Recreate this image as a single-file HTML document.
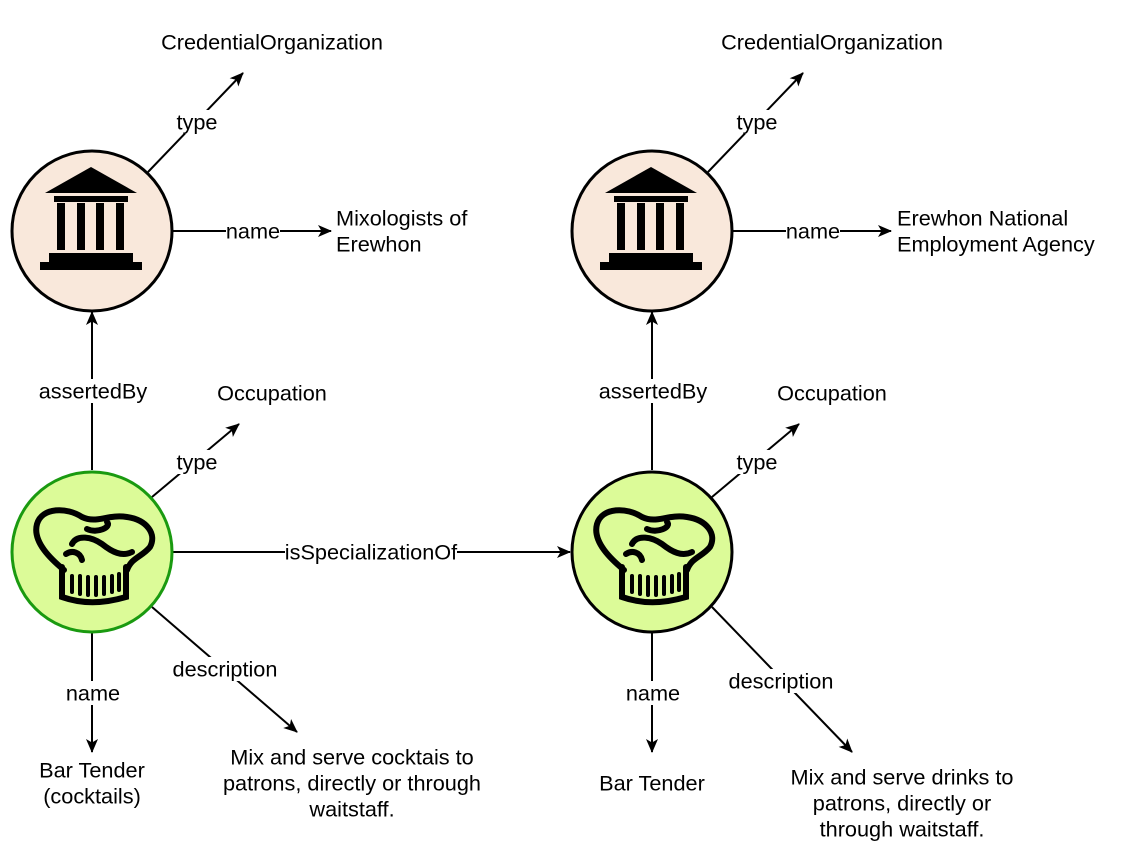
<!DOCTYPE html>
<html><head><meta charset="utf-8"><style>
html,body{margin:0;padding:0;background:#fff;}
svg{display:block;font-family:"Liberation Sans",Arial,sans-serif;font-size:21.7px;}
</style></head><body>
<svg width="1142" height="862" viewBox="0 0 1142 862" xmlns="http://www.w3.org/2000/svg">
<defs>
<marker id="ah" markerWidth="14" markerHeight="14" refX="13" refY="7" orient="auto" markerUnits="userSpaceOnUse" viewBox="0 0 14 14">
<path d="M0,1 L14,7 L0,13 L3.5,7 Z" fill="#000"/></marker>
<g id="bank">
<polygon points="-1,-64 -47,-38 45,-38" fill="#000"/>
<rect x="-38" y="-35" width="74" height="6" fill="#000"/>
<rect x="-35" y="-28" width="8" height="47" fill="#000"/>
<rect x="-15" y="-28" width="8" height="47" fill="#000"/>
<rect x="4" y="-28" width="8" height="47" fill="#000"/>
<rect x="24" y="-28" width="8" height="47" fill="#000"/>
<rect x="-43" y="22" width="84" height="9" fill="#000"/>
<rect x="-52" y="31" width="102" height="8" fill="#000"/>
</g>
<g id="hat" fill="none" stroke="#000" stroke-width="6" stroke-linecap="round">
<path d="M-28,18 C-40,8 -60,-10 -55,-28 C-50,-45 -25,-45 -10,-35 C5,-28 15,-38 35,-35 C55,-32 65,-18 58,-5 C50,5 40,5 35,18"/>
<path d="M-5,-23 C5,-18 20,-25 15,-30"/>
<path d="M-20,-8 C-15,-18 0,-15 10,-8 C20,0 30,5 40,0"/>
<path d="M-10,8 C-12,0 -20,-2 -26,2"/>
<path d="M-30,15 L-30,45 C-10,52 10,52 34,45 L34,15"/>
<path d="M-20,24 V40 M-12,24 V42 M-4,25 V43 M4,25 V43 M12,25 V42 M20,24 V40 M27,22 V38" stroke-width="4"/>
</g>
</defs>

<g stroke="#000" stroke-width="2" fill="none">
<line x1="148" y1="172" x2="243" y2="73" marker-end="url(#ah)"/>
<line x1="172" y1="231" x2="331" y2="231" marker-end="url(#ah)"/>
<line x1="92" y1="470" x2="92" y2="312" marker-end="url(#ah)"/>
<line x1="152" y1="497" x2="239" y2="424" marker-end="url(#ah)"/>
<line x1="172" y1="552" x2="570" y2="552" marker-end="url(#ah)"/>
<line x1="92" y1="632" x2="92" y2="752" marker-end="url(#ah)"/>
<line x1="152" y1="607" x2="297" y2="732" marker-end="url(#ah)"/>
<line x1="708" y1="172" x2="803" y2="73" marker-end="url(#ah)"/>
<line x1="732" y1="231" x2="891" y2="231" marker-end="url(#ah)"/>
<line x1="652" y1="470" x2="652" y2="312" marker-end="url(#ah)"/>
<line x1="712" y1="497" x2="799" y2="424" marker-end="url(#ah)"/>
<line x1="652" y1="632" x2="652" y2="752" marker-end="url(#ah)"/>
<line x1="712" y1="607" x2="852" y2="752" marker-end="url(#ah)"/>
</g>

<circle cx="92" cy="231" r="80" fill="#f9e8db" stroke="#000" stroke-width="3"/>
<circle cx="652" cy="231" r="80" fill="#f9e8db" stroke="#000" stroke-width="3"/>
<circle cx="92" cy="552" r="80" fill="#dcfb98" stroke="#1a9a10" stroke-width="3"/>
<circle cx="652" cy="552" r="80" fill="#dcfb98" stroke="#000" stroke-width="3"/>
<use href="#bank" x="92" y="231"/>
<use href="#bank" x="652" y="231"/>
<use href="#hat" x="92" y="552"/>
<use href="#hat" x="652" y="552"/>

<g fill="#fff">
<rect x="176" y="110" width="42" height="24"/>
<rect x="226" y="219" width="54" height="24"/>
<rect x="38" y="379" width="110" height="24"/>
<rect x="176" y="450" width="42" height="24"/>
<rect x="285" y="540" width="172" height="24"/>
<rect x="66" y="681" width="54" height="24"/>
<rect x="172" y="657" width="106" height="24"/>
<rect x="736" y="110" width="42" height="24"/>
<rect x="786" y="219" width="54" height="24"/>
<rect x="598" y="379" width="110" height="24"/>
<rect x="736" y="450" width="42" height="24"/>
<rect x="626" y="681" width="54" height="24"/>
<rect x="728" y="669" width="106" height="24"/>
</g>

<g fill="#000" text-anchor="middle" dominant-baseline="central">
<text x="197" y="122">type</text>
<text x="253" y="231">name</text>
<text x="93" y="391">assertedBy</text>
<text x="197" y="462">type</text>
<text x="371" y="552">isSpecializationOf</text>
<text x="93" y="693">name</text>
<text x="225" y="669">description</text>
<text x="757" y="122">type</text>
<text x="813" y="231">name</text>
<text x="653" y="391">assertedBy</text>
<text x="757" y="462">type</text>
<text x="653" y="693">name</text>
<text x="781" y="681">description</text>

<text x="272" y="42">CredentialOrganization</text>
<text x="832" y="42">CredentialOrganization</text>
<text x="272" y="393">Occupation</text>
<text x="832" y="393">Occupation</text>
<text x="92" y="770">Bar Tender</text>
<text x="92" y="796">(cocktails)</text>
<text x="652" y="783">Bar Tender</text>
<text x="352" y="757">Mix and serve cocktais to</text>
<text x="352" y="783">patrons, directly or through</text>
<text x="352" y="809">waitstaff.</text>
<text x="902" y="777">Mix and serve drinks to</text>
<text x="902" y="803">patrons, directly or</text>
<text x="902" y="829">through waitstaff.</text>
</g>
<g fill="#000" dominant-baseline="central">
<text x="336" y="218">Mixologists of</text>
<text x="336" y="244">Erewhon</text>
<text x="897" y="218">Erewhon National</text>
<text x="897" y="244">Employment Agency</text>
</g>
</svg>
</body></html>
